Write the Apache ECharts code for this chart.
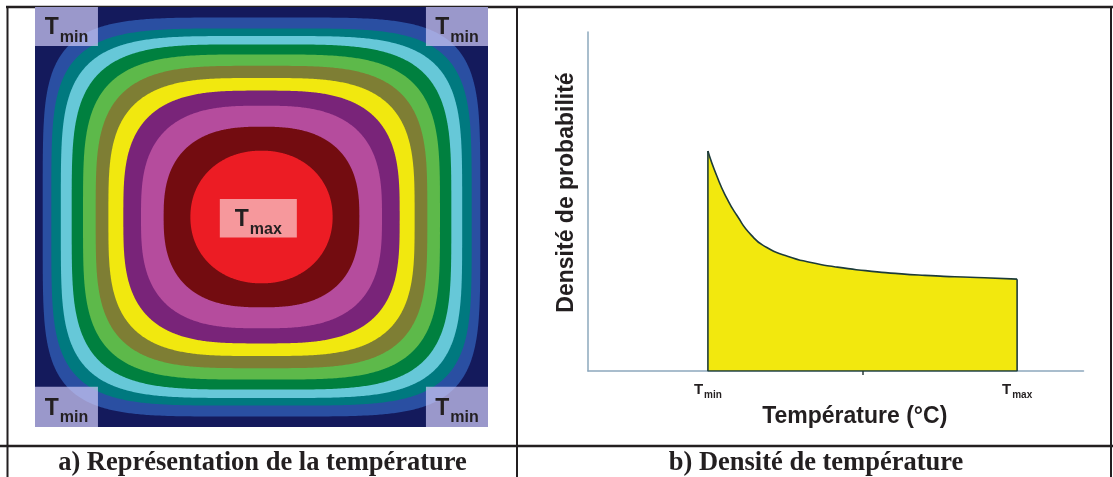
<!DOCTYPE html>
<html><head><meta charset="utf-8">
<script src="https://cdn.jsdelivr.net/npm/echarts@6/dist/echarts.min.js"></script>
<style>html,body{margin:0;padding:0;background:#fff}#c{width:1113px;height:477px}</style>
</head><body><div id="c"></div>
<script>
// ---------- Panel a: temperature field, nested isotherm bands (outermost -> centre) ----------
// plate coordinates are % of plate width / height
const bandNames      = ['T1','T2','T3','T4','T5','T6','T7','T8','T9','T10','T11','T12'];
const bandHalfWidth  = [50, 48.3, 46.4, 44.3, 41.9, 39.4, 36.6, 33.8, 30.5, 26.6, 21.6, 15.7];
const bandHalfHeight = [50, 47.5, 44.9, 43.1, 41.1, 38.7, 36.0, 33.1, 30.1, 26.5, 21.5, 15.8];
const bandSquareness = [0, 5.0, 4.7, 4.4, 4.1, 3.9, 3.7, 3.5, 3.2, 2.9, 2.6, 2.1]; // 0 = plate (rectangle)
const plateCentre    = [50, 50];
const annotationNames = ['min', 'min', 'min', 'min', 'max'];
const annotationX     = [[0, 13.9], [86.3, 100], [0, 13.9], [86.3, 100], [40.8, 57.8]];
const annotationY     = [[90.7, 100], [90.7, 100], [0, 9.6], [0, 9.6], [45.1, 54.3]];

// ---------- Panel b: probability density of temperature ----------
const Tmin = 24.2, Tmax = 86.6, midTick = 55.4;
const densityTemp  = [24.2, 26, 28, 30, 33, 36, 40, 45, 50, 56, 62, 68, 74, 80, 86.6];
const densityValue = [64.9, 57.5, 51.0, 46.0, 40.0, 36.5, 34.0, 32.0, 30.7, 29.6, 28.8, 28.2, 27.8, 27.5, 27.1];

const bandColors = ['#141a5c','#2a4fa2','#00797f','#66c8d8','#00803f','#5db94a','#7e7e34','#f1e80f','#792479','#b54c9d','#730c10','#ec1c24'];
const SANS = '"Liberation Sans", Arial, sans-serif';
const SERIF = '"Liberation Serif", "Times New Roman", serif';
const INK = '#231f20';

function renderBand(params, api) {
  const i = api.value(0), a = api.value(1), b = api.value(2), n = api.value(3);
  const pts = [];
  if (!n) {
    [[-1,-1],[1,-1],[1,1],[-1,1]].forEach(([sx, sy]) => pts.push(api.coord([plateCentre[0] + sx * a, plateCentre[1] + sy * b])));
  } else {
    const N = 720;
    for (let k = 0; k < N; k++) {
      const t = k / N * 2 * Math.PI, c = Math.cos(t), s = Math.sin(t);
      const x = plateCentre[0] + a * Math.sign(c) * Math.pow(Math.abs(c), 2 / n);
      const y = plateCentre[1] + b * Math.sign(s) * Math.pow(Math.abs(s), 2 / n);
      pts.push(api.coord([x, y]));
    }
  }
  return { type: 'polygon', shape: { points: pts }, style: { fill: bandColors[i] } };
}

const boxRich = {
  t: { fontFamily: SANS, fontWeight: 'bold', fontSize: 23, fill: INK, lineHeight: 26, verticalAlign: 'top' },
  s: { fontFamily: SANS, fontWeight: 'bold', fontSize: 16, fill: INK, lineHeight: 18, verticalAlign: 'top', padding: [13, 0, 0, 1] }
};
const axRich = {
  t: { fontFamily: SANS, fontWeight: 'bold', fontSize: 15, color: INK, lineHeight: 17, verticalAlign: 'top' },
  s: { fontFamily: SANS, fontWeight: 'bold', fontSize: 10, color: INK, lineHeight: 11, verticalAlign: 'top', padding: [8, 0, 0, 1] }
};

function renderNote(params, api) {
  const i = params.dataIndex;
  const p0 = api.coord([api.value(0), api.value(3)]);
  const p1 = api.coord([api.value(1), api.value(2)]);
  const isMax = annotationNames[i] === 'max';
  return {
    type: 'group',
    children: [
      { type: 'rect', shape: { x: p0[0], y: p0[1], width: p1[0] - p0[0], height: p1[1] - p0[1] },
        style: { fill: isMax ? 'rgba(255,255,255,0.55)' : 'rgba(206,201,246,0.72)' } },
      { type: 'text', style: { text: '{t|T}{s|' + annotationNames[i] + '}', rich: boxRich,
          x: (p0[0] + p1[0]) / 2, y: (p0[1] + p1[1]) / 2 + 3, align: 'center', verticalAlign: 'middle' } }
    ]
  };
}

const chart = echarts.init(document.getElementById('c'), null, { renderer: 'canvas' });
chart.setOption({
  animation: false,
  backgroundColor: '#fff',
  grid: [
    { left: 35, top: 7, width: 453, height: 420 },
    { left: 588, top: 32, width: 495.5, height: 339 }
  ],
  xAxis: [
    { gridIndex: 0, type: 'value', min: 0, max: 100, show: false },
    { gridIndex: 1, type: 'value', min: 0, max: 100,
      axisLine: { show: true, lineStyle: { color: '#8da8bd', width: 1.5 } },
      axisTick: { show: true, customValues: [midTick], length: 4, lineStyle: { color: '#2b3b3b', width: 1.5 } },
      axisLabel: { show: true, customValues: [Tmin, Tmax], margin: 11,
        formatter: v => Math.abs(v - Tmin) < 0.01 ? '{t|T}{s|min}' : '{t|T}{s|max}', rich: axRich },
      splitLine: { show: false },
      name: 'Température (°C)', nameLocation: 'middle', nameGap: 17,
      nameTextStyle: { fontFamily: SANS, fontWeight: 'bold', fontSize: 23, color: INK, padding: [0, 0, 0, 38] }
    }
  ],
  yAxis: [
    { gridIndex: 0, type: 'value', min: 0, max: 100, show: false },
    { gridIndex: 1, type: 'value', min: 0, max: 100,
      axisLine: { show: true, lineStyle: { color: '#8da8bd', width: 1.5 } },
      axisTick: { show: false }, axisLabel: { show: false }, splitLine: { show: false },
      name: 'Densité de probabilité', nameLocation: 'middle', nameRotate: 90, nameGap: 10,
      nameTextStyle: { fontFamily: SANS, fontWeight: 'bold', fontSize: 23, color: INK, padding: [0, 0, 0, 18] }
    }
  ],
  series: [
    {
      type: 'custom', xAxisIndex: 0, yAxisIndex: 0, silent: true,
      renderItem: renderBand,
      encode: { x: 1, y: 2 },
      data: bandNames.map((nm, i) => ({ name: nm, value: [i, bandHalfWidth[i], bandHalfHeight[i], bandSquareness[i]] }))
    },
    {
      type: 'custom', xAxisIndex: 0, yAxisIndex: 0, silent: true, z: 3,
      renderItem: renderNote,
      encode: { x: [0, 1], y: [2, 3] },
      data: annotationNames.map((nm, i) => [annotationX[i][0], annotationX[i][1], annotationY[i][0], annotationY[i][1]])
    },
    {
      type: 'line', xAxisIndex: 1, yAxisIndex: 1, silent: true,
      data: densityTemp.map((t, i) => [t, densityValue[i]]),
      smooth: 0.6, symbol: 'none',
      lineStyle: { color: '#1d3b39', width: 1.6 },
      areaStyle: { color: '#f2e80e', opacity: 1 }
    },
    {
      type: 'line', xAxisIndex: 1, yAxisIndex: 1, silent: true,
      data: [[Tmax, densityValue[densityValue.length - 1]], [Tmax, 0], [Tmin, 0], [Tmin, densityValue[0]]],
      symbol: 'none', lineStyle: { color: '#1d3b39', width: 1.6 }
    }
  ],
  graphic: [
    { type: 'line', shape: { x1: 6, y1: 7, x2: 1113, y2: 7 }, style: { stroke: INK, lineWidth: 2.5 } },
    { type: 'line', shape: { x1: 0, y1: 446, x2: 1113, y2: 446 }, style: { stroke: INK, lineWidth: 2.5 } },
    { type: 'line', shape: { x1: 7.5, y1: 6, x2: 7.5, y2: 477 }, style: { stroke: INK, lineWidth: 2 } },
    { type: 'line', shape: { x1: 517, y1: 6, x2: 517, y2: 477 }, style: { stroke: INK, lineWidth: 2 } },
    { type: 'line', shape: { x1: 1111, y1: 6, x2: 1111, y2: 477 }, style: { stroke: INK, lineWidth: 2 } },
    { type: 'text', style: { text: 'a) Représentation de la température', x: 262.5, y: 463, align: 'center', verticalAlign: 'middle',
      font: 'bold 26.5px ' + SERIF, fill: INK } },
    { type: 'text', style: { text: 'b) Densité de température', x: 816, y: 463, align: 'center', verticalAlign: 'middle',
      font: 'bold 26.5px ' + SERIF, fill: INK } }
  ]
});
</script></body></html>
